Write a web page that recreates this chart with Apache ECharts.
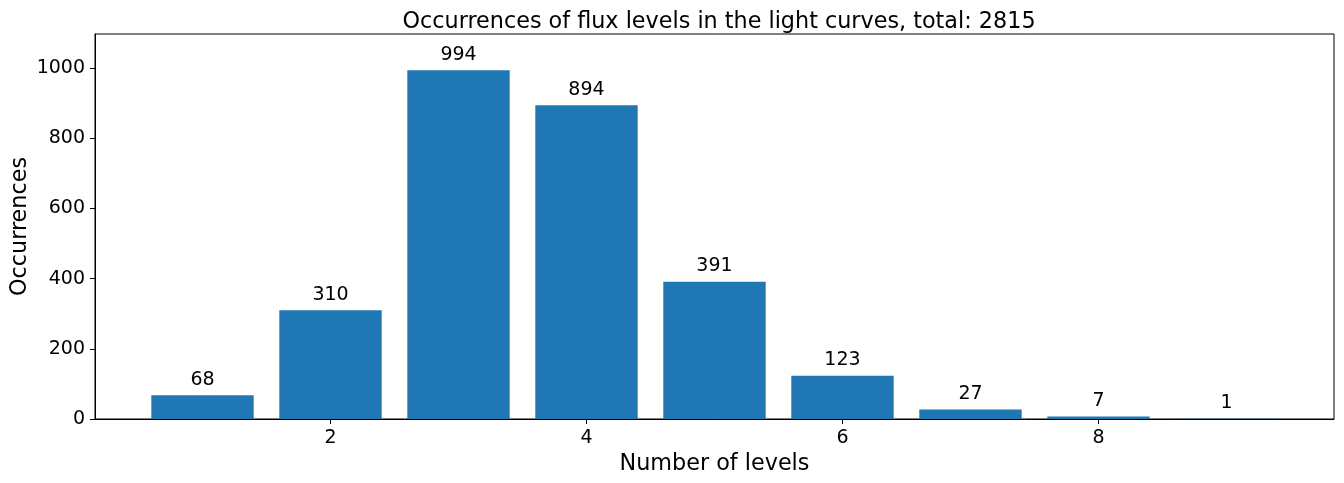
<!DOCTYPE html>
<html>
<head>
<meta charset="utf-8">
<script src="https://cdn.jsdelivr.net/npm/echarts@6/dist/echarts.min.js"></script>
<style>
  html, body { margin: 0; padding: 0; background: #fff; }
  #chart { width: 1344px; height: 483px; }
</style>
</head>
<body>
<div id="chart"></div>
<script>
var levels = [1, 2, 3, 4, 5, 6, 7, 8, 9];
var counts = [68, 310, 994, 894, 391, 123, 27, 7, 1];
var xTicks = [2, 4, 6, 8];

var myChart = echarts.init(document.getElementById('chart'));
var font = 'DejaVu Sans';
var option = {
  animation: false,
  textStyle: { fontFamily: font },
  title: {
    text: 'Occurrences of flux levels in the light curves, total: 2815',
    left: 714,
    textAlign: 'center',
    top: 6,
    textStyle: { fontFamily: font, fontSize: 22.3, fontWeight: 'normal', color: '#000' }
  },
  grid: {
    left: 95, right: 10, top: 34, bottom: 64,
    outerBoundsMode: 'none',
    containLabel: false,
    show: true, borderColor: '#000', borderWidth: 1
  },
  xAxis: {
    type: 'value',
    min: 0.16,
    max: 9.84,
    name: 'Number of levels',
    nameLocation: 'middle',
    nameGap: 33,
    nameTextStyle: { fontFamily: font, fontSize: 22.3, color: '#000' },
    axisLine: { show: true, lineStyle: { color: '#000' } },
    axisTick: { show: true, length: 5, customValues: xTicks, lineStyle: { color: '#000' } },
    axisLabel: { customValues: xTicks, fontSize: 19, color: '#000', margin: 10 },
    splitLine: { show: false }
  },
  yAxis: {
    type: 'value',
    min: 0,
    max: 1097,
    interval: 200,
    name: 'Occurrences',
    nameLocation: 'middle',
    nameGap: 64,
    nameMoveOverlap: false,
    nameTextStyle: { fontFamily: font, fontSize: 22.3, color: '#000' },
    axisLine: { show: true, lineStyle: { color: '#000' } },
    axisTick: { show: true, length: 5, lineStyle: { color: '#000' } },
    axisLabel: { fontSize: 19, color: '#000', margin: 10, showMaxLabel: false,
      formatter: function (v) { return String(v); } },
    splitLine: { show: false }
  },
  series: [{
    type: 'bar',
    barWidth: 102.4,
    itemStyle: { color: '#1f77b4', borderWidth: 0 },
    label: {
      show: true, position: 'top', distance: 6,
      fontFamily: font, fontSize: 19, color: '#000'
    },
    data: levels.map(function (l, i) { return [l, counts[i]]; })
  }]
};
myChart.setOption(option);
</script>
</body>
</html>
